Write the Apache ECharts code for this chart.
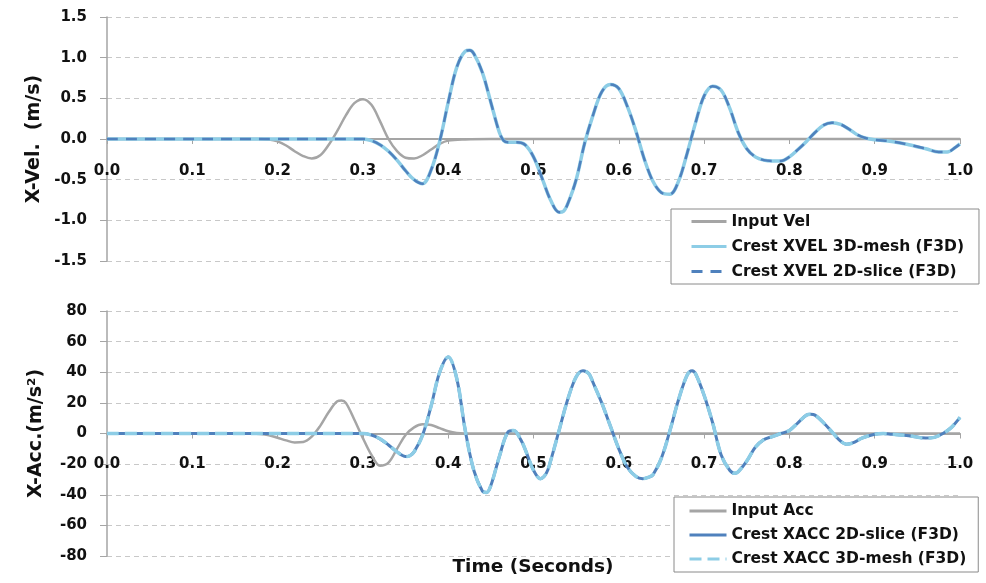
<!DOCTYPE html>
<html>
<head>
<meta charset="utf-8">
<script src="https://cdn.jsdelivr.net/npm/echarts@6/dist/echarts.min.js"></script>
<style>html,body{margin:0;padding:0;background:#fff}#c{width:986px;height:583px}</style>
</head>
<body>
<div id="c"></div>
<script>
// ---- X ticks ----
const xTicks = [0.0, 0.1, 0.2, 0.3, 0.4, 0.5, 0.6, 0.7, 0.8, 0.9, 1.0];

// ---- Velocity panel ----
const velInputT = [0, 0.10, 0.18, 0.19, 0.20, 0.21, 0.22, 0.23, 0.24, 0.25, 0.26, 0.27, 0.28, 0.29, 0.30, 0.31, 0.32, 0.33, 0.34, 0.35, 0.36, 0.37, 0.38, 0.39, 0.40, 0.42, 0.45, 0.6, 0.8, 1.0];
const velInputV = [0, 0, 0, -0.005, -0.03, -0.08, -0.15, -0.21, -0.24, -0.2, -0.07, 0.1, 0.29, 0.44, 0.49, 0.42, 0.22, 0.0, -0.15, -0.23, -0.24, -0.2, -0.13, -0.06, -0.02, -0.005, 0, 0, 0, 0];
const velCrestT = [0, 0.10, 0.20, 0.30, 0.31, 0.32, 0.33, 0.34, 0.35, 0.36, 0.37, 0.38, 0.39, 0.40, 0.41, 0.42, 0.425, 0.43, 0.44, 0.45, 0.46, 0.465, 0.47, 0.48, 0.49, 0.50, 0.51, 0.52, 0.53, 0.535, 0.54, 0.55, 0.56, 0.57, 0.58, 0.59, 0.60, 0.61, 0.62, 0.63, 0.64, 0.65, 0.66, 0.67, 0.68, 0.69, 0.70, 0.71, 0.72, 0.73, 0.74, 0.75, 0.76, 0.77, 0.78, 0.79, 0.80, 0.81, 0.82, 0.83, 0.84, 0.85, 0.86, 0.87, 0.88, 0.89, 0.90, 0.92, 0.94, 0.96, 0.975, 0.985, 0.995, 1.0];
const velCrestV = [0, 0, 0, 0, -0.02, -0.07, -0.15, -0.26, -0.39, -0.5, -0.55, -0.38, -0.03, 0.45, 0.88, 1.08, 1.09, 1.05, 0.82, 0.45, 0.08, -0.02, -0.04, -0.04, -0.07, -0.22, -0.48, -0.75, -0.9, -0.89, -0.8, -0.5, -0.05, 0.3, 0.58, 0.67, 0.62, 0.4, 0.1, -0.25, -0.52, -0.66, -0.68, -0.52, -0.18, 0.2, 0.53, 0.65, 0.6, 0.38, 0.08, -0.12, -0.22, -0.26, -0.27, -0.27, -0.22, -0.13, -0.03, 0.08, 0.17, 0.2, 0.18, 0.12, 0.05, 0.01, -0.01, -0.03, -0.07, -0.12, -0.16, -0.16, -0.1, -0.06];

// ---- Acceleration panel ----
const accInputT = [0, 0.10, 0.17, 0.18, 0.19, 0.20, 0.21, 0.22, 0.23, 0.24, 0.25, 0.26, 0.27, 0.275, 0.28, 0.29, 0.30, 0.31, 0.32, 0.33, 0.34, 0.35, 0.36, 0.37, 0.38, 0.39, 0.40, 0.41, 0.42, 0.6, 0.8, 1.0];
const accInputV = [0, 0, 0, -0.3, -1.2, -2.8, -4.5, -5.8, -5.5, -2, 5, 14, 21, 21.5, 20, 9, -3, -14, -21, -19, -10, -1, 4, 6, 5.5, 3.5, 1.5, 0.3, 0, 0, 0, 0];
const accCrestT = [0, 0.10, 0.20, 0.30, 0.31, 0.32, 0.33, 0.34, 0.35, 0.355, 0.36, 0.37, 0.38, 0.39, 0.40, 0.41, 0.42, 0.43, 0.44, 0.445, 0.45, 0.46, 0.47, 0.477, 0.485, 0.49, 0.50, 0.508, 0.515, 0.52, 0.53, 0.54, 0.55, 0.558, 0.565, 0.57, 0.58, 0.59, 0.60, 0.61, 0.62, 0.628, 0.635, 0.64, 0.65, 0.66, 0.67, 0.68, 0.686, 0.69, 0.70, 0.71, 0.72, 0.73, 0.736, 0.74, 0.75, 0.76, 0.77, 0.78, 0.79, 0.80, 0.81, 0.82, 0.825, 0.83, 0.84, 0.85, 0.86, 0.867, 0.875, 0.885, 0.90, 0.91, 0.92, 0.94, 0.96, 0.97, 0.98, 0.99, 1.0];
const accCrestV = [0, 0, 0, 0, -1, -3.5, -7.5, -12, -15, -14.5, -12, -1, 18, 40, 50, 36, 2, -24, -37.5, -38.5, -34, -15, 1, 2, -4, -10, -24, -29.5, -26, -18, 2, 22, 37, 41, 39, 33, 20, 5, -10, -22, -28, -29.5, -28.5, -27, -16, 2, 22, 38, 41, 39, 25, 7, -14, -24, -26, -25, -18, -9, -4, -2, 0, 2, 7, 12, 12.5, 12, 7, 1, -5, -7, -6, -3, -0.5, 0, -0.5, -1.5, -3, -2.5, 0, 4, 10.5];

const zip = (t, v) => t.map((x, i) => [x, v[i]]);

const GRAY = '#a5a5a5';
const LIGHT = '#8dcde6';
const DARK = '#4f81bd';

const chart = echarts.init(document.getElementById('c'));

function xAxisCfg(gi, off, margin) {
  return {
    type: 'value', gridIndex: gi, min: 0, max: 1, interval: 0.1, offset: off,
    axisLine: { onZero: false, lineStyle: { color: GRAY, width: 2 } },
    axisTick: { show: true, length: 5, lineStyle: { color: GRAY } },
    axisLabel: { margin: margin, color: '#111', fontWeight: 'bold', fontSize: 15, fontFamily: 'DejaVu Sans',
      formatter: v => v.toFixed(1) },
    splitLine: { show: false }
  };
}
function yAxisCfg(gi, min, max, interval, name, fmt) {
  return {
    type: 'value', gridIndex: gi, min, max, interval,
    name, nameLocation: 'middle', nameGap: 61, nameRotate: 90,
    nameTextStyle: { color: '#111', fontWeight: 'bold', fontSize: 19, fontFamily: 'DejaVu Sans' },
    axisLine: { show: true, lineStyle: { color: GRAY, width: 1.5 } },
    axisTick: { show: true, length: 7, lineStyle: { color: GRAY } },
    axisLabel: { margin: 20, color: '#111', fontWeight: 'bold', fontSize: 15, fontFamily: 'DejaVu Sans', formatter: fmt },
    splitLine: { show: true, lineStyle: { color: '#c8c8c8', type: [5, 4], width: 1 } }
  };
}

const lineBase = { type: 'line', symbol: 'none', showSymbol: false, smooth: 0.35, animation: false };

const legendText = { color: '#111', fontWeight: 'bold', fontSize: 15.5, fontFamily: 'DejaVu Sans' };

chart.setOption({
  animation: false,
  grid: [
    { left: 107, right: 26, top: 17, height: 244 },
    { left: 107, right: 26, top: 311, height: 245 }
  ],
  xAxis: [xAxisCfg(0, -122, 25), xAxisCfg(1, -122.5, 23)],
  yAxis: [
    yAxisCfg(0, -1.5, 1.5, 0.5, 'X-Vel.  (m/s)', v => v.toFixed(1)),
    yAxisCfg(1, -80, 80, 20, 'X-Acc.(m/s²)', v => String(v))
  ],
  legend: [
    { orient: 'vertical', left: 671, top: 209, padding: [0, 15, 0, 19], itemWidth: 35, itemHeight: 14, itemGap: 0,
      backgroundColor: '#fff', borderColor: '#8a8a8a', borderWidth: 1,
      itemStyle: { opacity: 0 }, lineStyle: { width: 3 },
      textStyle: Object.assign({ lineHeight: 25 }, legendText),
      data: ['Input Vel', 'Crest XVEL 3D-mesh (F3D)', 'Crest XVEL 2D-slice (F3D)'] },
    { orient: 'vertical', left: 674, top: 497, padding: [2, 12, 1, 14], itemWidth: 37, itemHeight: 14, itemGap: 0,
      backgroundColor: '#fff', borderColor: '#8a8a8a', borderWidth: 1,
      itemStyle: { opacity: 0 }, lineStyle: { width: 3 },
      textStyle: Object.assign({ lineHeight: 24 }, legendText),
      data: ['Input Acc', 'Crest XACC 2D-slice (F3D)', 'Crest XACC 3D-mesh (F3D)'] }
  ],
  graphic: [{ type: 'text', x: 533, y: 567, style: { text: 'Time (Seconds)', fill: '#111', font: 'bold 18.5px "DejaVu Sans"', textAlign: 'center', textVerticalAlign: 'middle' } }],
  series: [
    Object.assign({}, lineBase, { name: 'Input Vel', xAxisIndex: 0, yAxisIndex: 0, data: zip(velInputT, velInputV),
      itemStyle: { color: GRAY }, lineStyle: { color: GRAY, width: 2.5 } }),
    Object.assign({}, lineBase, { name: 'Crest XVEL 3D-mesh (F3D)', xAxisIndex: 0, yAxisIndex: 0, data: zip(velCrestT, velCrestV),
      itemStyle: { color: LIGHT }, lineStyle: { color: LIGHT, width: 3.5 } }),
    Object.assign({}, lineBase, { name: 'Crest XVEL 2D-slice (F3D)', xAxisIndex: 0, yAxisIndex: 0, data: zip(velCrestT, velCrestV),
      itemStyle: { color: DARK }, lineStyle: { color: DARK, width: 2.5, type: [11, 8] } }),
    Object.assign({}, lineBase, { name: 'Input Acc', xAxisIndex: 1, yAxisIndex: 1, data: zip(accInputT, accInputV),
      itemStyle: { color: GRAY }, lineStyle: { color: GRAY, width: 2.5 } }),
    Object.assign({}, lineBase, { name: 'Crest XACC 2D-slice (F3D)', xAxisIndex: 1, yAxisIndex: 1, data: zip(accCrestT, accCrestV),
      itemStyle: { color: DARK }, lineStyle: { color: DARK, width: 3 } }),
    Object.assign({}, lineBase, { name: 'Crest XACC 3D-mesh (F3D)', xAxisIndex: 1, yAxisIndex: 1, data: zip(accCrestT, accCrestV),
      itemStyle: { color: LIGHT }, lineStyle: { color: LIGHT, width: 3.5, type: [12, 6] } })
  ]
});
</script>
</body>
</html>
